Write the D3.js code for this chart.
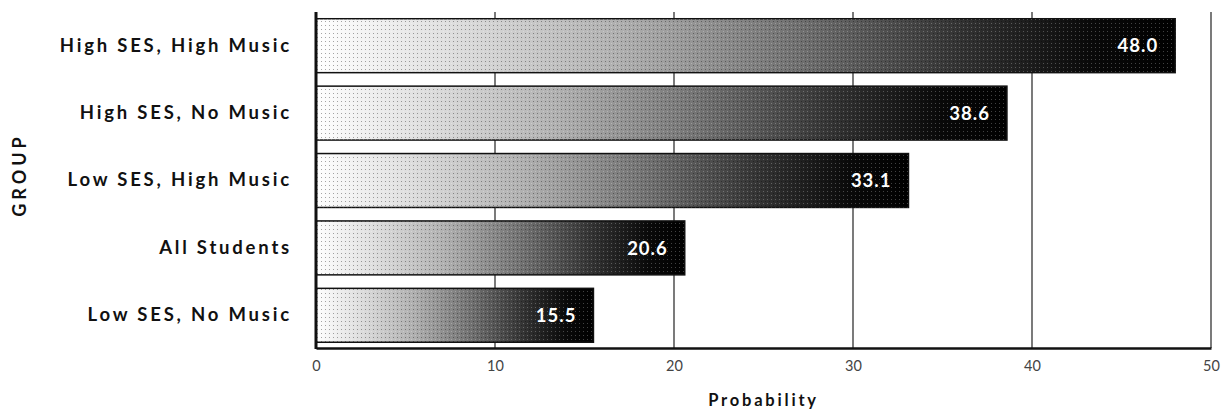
<!DOCTYPE html>
<html>
<head>
<meta charset="utf-8">
<script src="https://cdn.jsdelivr.net/npm/d3@7"></script>
<style>
  html, body { margin: 0; padding: 0; background: #fff; }
  svg { display: block; }
</style>
</head>
<body>
<svg id="chart" width="1225" height="410"></svg>
<script>
const categories = ["High SES, High Music", "High SES, No Music", "Low SES, High Music", "All Students", "Low SES, No Music"];
const values = [48.0, 38.6, 33.1, 20.6, 15.5];
const valueLabels = ["48.0", "38.6", "33.1", "20.6", "15.5"];
const xTicks = [0, 10, 20, 30, 40, 50];
const xTitle = "Probability";
const yTitle = "GROUP";

const svg = d3.select("#chart");
const mLeft = 316, mRight = 1211, mTop = 12, mBottom = 348;

const x = d3.scaleLinear().domain([0, 50]).range([mLeft, mRight]);
const y = d3.scaleBand().domain(categories).range([mTop, mBottom + 1]).paddingInner(0.2).paddingOuter(0.1);

const defs = svg.append("defs");
const grad = defs.append("linearGradient").attr("id", "barGrad")
  .attr("x1", "0").attr("x2", "1").attr("y1", "0").attr("y2", "0");
[[0, "#ffffff"], [0.15, "#e0e0e0"], [0.35, "#b0b0b0"], [0.55, "#747474"], [0.75, "#333333"], [0.9, "#0a0a0a"], [1, "#000000"]]
  .forEach(([o, c]) => grad.append("stop").attr("offset", o).attr("stop-color", c));

const pat = defs.append("pattern").attr("id", "dots").attr("patternUnits", "userSpaceOnUse")
  .attr("width", 4).attr("height", 4);
pat.append("rect").attr("x", 1).attr("y", 1).attr("width", 1).attr("height", 1).attr("fill", "#000").attr("opacity", 0.35);
pat.append("rect").attr("x", 3).attr("y", 3).attr("width", 1).attr("height", 1).attr("fill", "#fff").attr("opacity", 0.25);

// gridlines
svg.append("g").selectAll("line").data(xTicks.filter(d => d > 0)).join("line")
  .attr("x1", d => x(d)).attr("x2", d => x(d))
  .attr("y1", mTop).attr("y2", mBottom)
  .attr("stroke", "#222").attr("stroke-width", 1.2);

// bars
const bars = svg.append("g");
bars.selectAll("rect.bar").data(values).join("rect").attr("class", "bar")
  .attr("x", x(0)).attr("y", (d, i) => y(categories[i]))
  .attr("width", d => x(d) - x(0)).attr("height", y.bandwidth())
  .attr("fill", "url(#barGrad)")
  .attr("stroke", "#111").attr("stroke-width", 1.5);
bars.selectAll("rect.tex").data(values).join("rect").attr("class", "tex")
  .attr("x", x(0)).attr("y", (d, i) => y(categories[i]))
  .attr("width", d => x(d) - x(0)).attr("height", y.bandwidth())
  .attr("fill", "url(#dots)");

// value labels
svg.append("g").selectAll("text").data(values).join("text")
  .attr("x", d => x(d) - 17)
  .attr("y", (d, i) => y(categories[i]) + y.bandwidth() / 2)
  .attr("dy", "0.36em")
  .attr("text-anchor", "end")
  .attr("fill", "#fff")
  .attr("font-family", "Lato, sans-serif")
  .attr("font-weight", "bold")
  .attr("font-size", 18.5)
  .attr("letter-spacing", "1px")
  .text((d, i) => valueLabels[i]);

// x axis
const xAxis = svg.append("g").attr("transform", `translate(0,${mBottom})`)
  .call(d3.axisBottom(x).tickValues(xTicks).tickSize(0).tickPadding(13).tickFormat(d3.format("d")));
xAxis.select(".domain").attr("stroke", "#111").attr("stroke-width", 2.5);
xAxis.selectAll("text").attr("font-family", "Lato, sans-serif").attr("font-size", 14.5).attr("fill", "#444");

// y axis
const yAxis = svg.append("g").attr("transform", `translate(${mLeft},0)`)
  .call(d3.axisLeft(y).tickSize(0).tickPadding(24));
yAxis.select(".domain").remove();
svg.append("line").attr("x1", mLeft).attr("x2", mLeft).attr("y1", mTop).attr("y2", mBottom + 1)
  .attr("stroke", "#111").attr("stroke-width", 3);
yAxis.selectAll("text").attr("font-family", "Lato, sans-serif").attr("font-weight", "bold")
  .attr("font-size", 18.5).attr("letter-spacing", "2.8px").attr("fill", "#111");

// titles
svg.append("text").attr("x", (mLeft + mRight) / 2).attr("y", 406).attr("text-anchor", "middle")
  .attr("font-family", "Lato, sans-serif").attr("font-weight", "bold").attr("font-size", 16.5)
  .attr("letter-spacing", "2.8px").attr("fill", "#111").text(xTitle);
svg.append("text").attr("transform", `translate(26,175) rotate(-90)`)
  .attr("text-anchor", "middle")
  .attr("font-family", "Lato, sans-serif").attr("font-weight", "bold").attr("font-size", 18)
  .attr("letter-spacing", "4px").attr("fill", "#111").text(yTitle);
</script>
</body>
</html>
